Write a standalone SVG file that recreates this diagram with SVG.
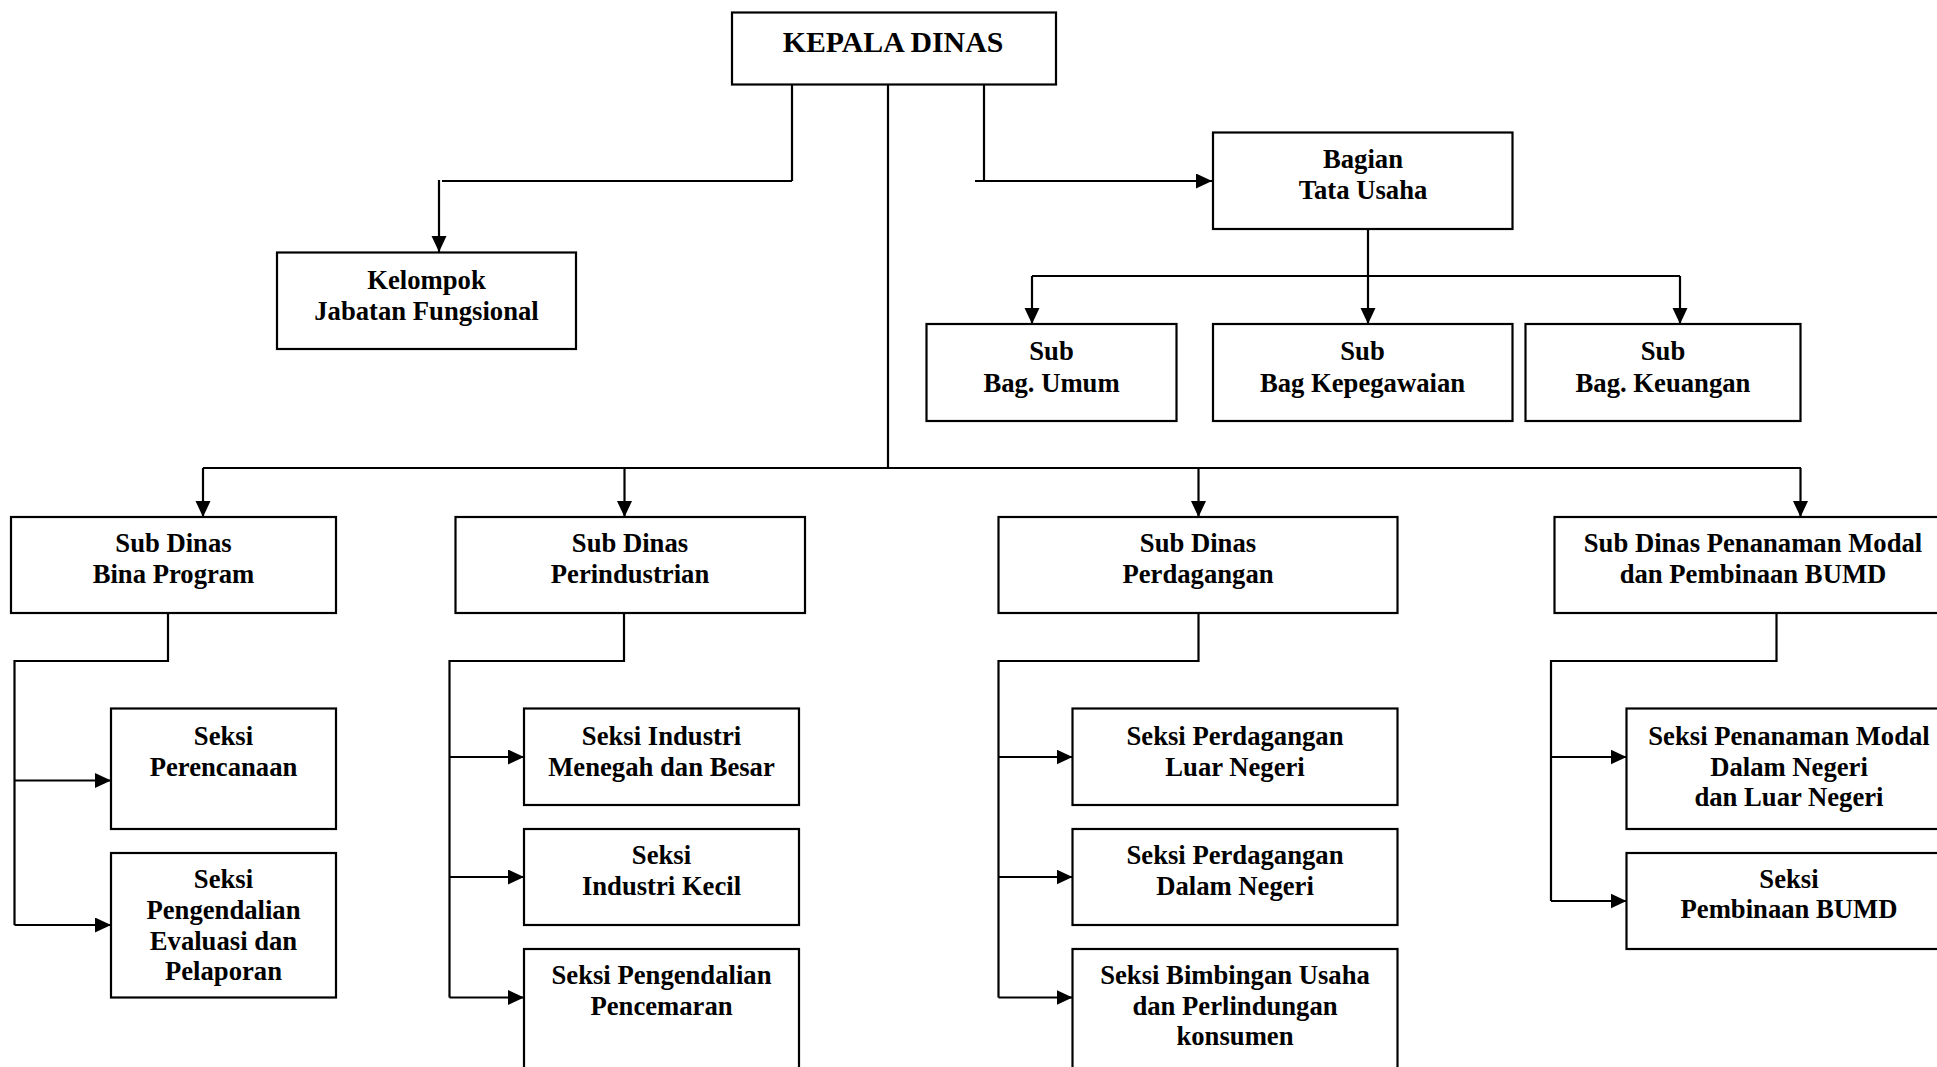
<svg xmlns="http://www.w3.org/2000/svg" width="1937" height="1067" viewBox="0 0 1937 1067">
<defs>
<marker id="ah" markerUnits="userSpaceOnUse" markerWidth="16" markerHeight="16" refX="16" refY="7.5" orient="auto"><path d="M0,0 L16,7.5 L0,15 z" fill="#000"/></marker>
<style>
.box{fill:#fff;stroke:#000;stroke-width:2.2}
.ln{fill:none;stroke:#000;stroke-width:2.2}
.ar{fill:none;stroke:#000;stroke-width:2.2;marker-end:url(#ah)}
text{font-family:"Liberation Serif","Times New Roman",serif;font-weight:bold;font-size:26.67px;text-anchor:middle;fill:#000}
.big{font-size:29.8px}
</style>
</defs>
<rect width="1937" height="1067" fill="#fff"/>
<g id="connectors">
<line class="ln" x1="792" y1="84" x2="792" y2="181"/>
<line class="ln" x1="792" y1="181" x2="442" y2="181"/>
<line class="ar" x1="439" y1="180" x2="439" y2="252"/>
<line class="ln" x1="984" y1="84" x2="984" y2="181"/>
<line class="ar" x1="975" y1="181" x2="1212" y2="181"/>
<line class="ln" x1="888" y1="84" x2="888" y2="468"/>
<line class="ln" x1="1368" y1="229" x2="1368" y2="276"/>
<line class="ln" x1="1032" y1="276" x2="1680" y2="276"/>
<line class="ar" x1="1032" y1="276" x2="1032" y2="324"/>
<line class="ar" x1="1368" y1="276" x2="1368" y2="324"/>
<line class="ar" x1="1680" y1="276" x2="1680" y2="324"/>
<line class="ln" x1="203" y1="468" x2="1801" y2="468"/>
<line class="ar" x1="203" y1="468" x2="203" y2="517"/>
<line class="ar" x1="624.5" y1="468" x2="624.5" y2="517"/>
<line class="ar" x1="1198.5" y1="468" x2="1198.5" y2="517"/>
<line class="ar" x1="1800.5" y1="468" x2="1800.5" y2="517"/>
<polyline class="ln" points="168,613 168,661 14.5,661 14.5,925"/>
<line class="ar" x1="14.5" y1="780.5" x2="111" y2="780.5"/>
<line class="ar" x1="14.5" y1="925" x2="111" y2="925"/>
<polyline class="ln" points="624,613 624,661 449.5,661 449.5,997.5"/>
<line class="ar" x1="449.5" y1="757" x2="524" y2="757"/>
<line class="ar" x1="449.5" y1="877" x2="524" y2="877"/>
<line class="ar" x1="449.5" y1="997.5" x2="524" y2="997.5"/>
<polyline class="ln" points="1198.5,613 1198.5,661 998.5,661 998.5,997.5"/>
<line class="ar" x1="998.5" y1="757" x2="1072.5" y2="757"/>
<line class="ar" x1="998.5" y1="877" x2="1072.5" y2="877"/>
<line class="ar" x1="998.5" y1="997.5" x2="1072.5" y2="997.5"/>
<polyline class="ln" points="1776.5,613 1776.5,661 1551,661 1551,901"/>
<line class="ar" x1="1551" y1="757" x2="1626.5" y2="757"/>
<line class="ar" x1="1551" y1="901" x2="1626.5" y2="901"/>
</g>
<g id="kepala"><rect class="box" x="732" y="12.5" width="324" height="72"/><text class="big" x="893" y="52">KEPALA DINAS</text></g>
<g id="kelompok"><rect class="box" x="277" y="252.5" width="299" height="96.5"/><text x="426.5" y="289">Kelompok</text><text x="426.5" y="320">Jabatan Fungsional</text></g>
<g id="bagian-tu"><rect class="box" x="1213" y="132.5" width="299.5" height="96.5"/><text x="1363" y="168">Bagian</text><text x="1363" y="199">Tata Usaha</text></g>
<g id="sub-umum"><rect class="box" x="926.5" y="324" width="250" height="97"/><text x="1051.5" y="360">Sub</text><text x="1051.5" y="391.5">Bag. Umum</text></g>
<g id="sub-kepegawaian"><rect class="box" x="1213" y="324" width="299.5" height="97"/><text x="1362.5" y="360">Sub</text><text x="1362.5" y="391.5">Bag Kepegawaian</text></g>
<g id="sub-keuangan"><rect class="box" x="1525.5" y="324" width="275" height="97"/><text x="1663" y="360">Sub</text><text x="1663" y="391.5">Bag. Keuangan</text></g>
<g id="sd-bina"><rect class="box" x="11" y="517" width="325" height="96"/><text x="173.5" y="552">Sub Dinas</text><text x="173.5" y="583">Bina Program</text></g>
<g id="sd-industri"><rect class="box" x="455.5" y="517" width="349.5" height="96"/><text x="630" y="552">Sub Dinas</text><text x="630" y="583">Perindustrian</text></g>
<g id="sd-dagang"><rect class="box" x="998.5" y="517" width="399" height="96"/><text x="1198" y="552">Sub Dinas</text><text x="1198" y="583">Perdagangan</text></g>
<g id="sd-modal"><rect class="box" x="1554.5" y="517" width="400" height="96"/><text x="1753" y="552">Sub Dinas Penanaman Modal</text><text x="1753" y="583">dan Pembinaan BUMD</text></g>
<g id="s-perencanaan"><rect class="box" x="111" y="708.5" width="225" height="120.5"/><text x="223.5" y="745">Seksi</text><text x="223.5" y="776">Perencanaan</text></g>
<g id="s-pengendalian"><rect class="box" x="111" y="853" width="225" height="144.5"/><text x="223.5" y="888">Seksi</text><text x="223.5" y="919">Pengendalian</text><text x="223.5" y="950">Evaluasi dan</text><text x="223.5" y="980">Pelaporan</text></g>
<g id="s-ind-besar"><rect class="box" x="524" y="708.5" width="275" height="96.5"/><text x="661.5" y="745">Seksi Industri</text><text x="661.5" y="776">Menegah dan Besar</text></g>
<g id="s-ind-kecil"><rect class="box" x="524" y="829" width="275" height="96"/><text x="661.5" y="864">Seksi</text><text x="661.5" y="894.5">Industri Kecil</text></g>
<g id="s-pencemaran"><rect class="box" x="524" y="949" width="275" height="130"/><text x="661.5" y="984">Seksi Pengendalian</text><text x="661.5" y="1014.5">Pencemaran</text></g>
<g id="s-dag-luar"><rect class="box" x="1072.5" y="708.5" width="325" height="96.5"/><text x="1235" y="745">Seksi Perdagangan</text><text x="1235" y="776">Luar Negeri</text></g>
<g id="s-dag-dalam"><rect class="box" x="1072.5" y="829" width="325" height="96"/><text x="1235" y="864">Seksi Perdagangan</text><text x="1235" y="894.5">Dalam Negeri</text></g>
<g id="s-bimbingan"><rect class="box" x="1072.5" y="949" width="325" height="130"/><text x="1235" y="984">Seksi Bimbingan Usaha</text><text x="1235" y="1014.5">dan Perlindungan</text><text x="1235" y="1045">konsumen</text></g>
<g id="s-pm"><rect class="box" x="1626.5" y="708.5" width="330" height="120.5"/><text x="1789" y="745">Seksi Penanaman Modal</text><text x="1789" y="775.5">Dalam Negeri</text><text x="1789" y="806">dan Luar Negeri</text></g>
<g id="s-bumd"><rect class="box" x="1626.5" y="853" width="330" height="96"/><text x="1789" y="887.5">Seksi</text><text x="1789" y="918">Pembinaan BUMD</text></g>
</svg>
